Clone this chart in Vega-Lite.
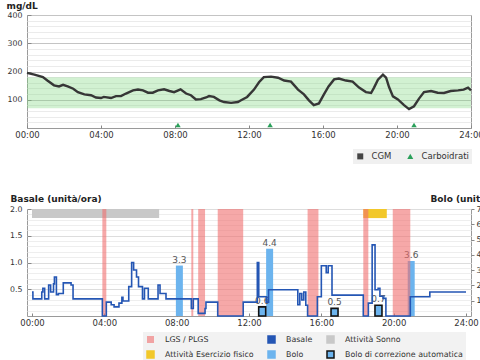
{
  "$schema": "https://vega.github.io/schema/vega-lite/v6.json",
  "padding": {"left": 5, "top": 0, "right": 0, "bottom": 0},
  "spacing": 54,
  "config": {
    "font": "DejaVu Sans",
    "view": {"stroke": "#9a9a9a"},
    "axis": {"labelFont": "DejaVu Sans", "labelFontSize": 8.5, "labelColor": "#333", "titleFont": "DejaVu Sans", "domain": false, "tickColor": "#888"},
    "legend": {"labelFont": "DejaVu Sans", "labelFontSize": 8.5, "labelColor": "#333"}
  },
  "datasets": {
    "cgm": [
      {"t": 0, "g": 195}, {"t": 0.4, "g": 189}, {"t": 0.86, "g": 180}, {"t": 1.1, "g": 168}, {"t": 1.46, "g": 151}, {"t": 1.73, "g": 147}, {"t": 1.95, "g": 153}, {"t": 2.2, "g": 147}, {"t": 2.5, "g": 139}, {"t": 2.75, "g": 127}, {"t": 3.1, "g": 119}, {"t": 3.46, "g": 116}, {"t": 3.73, "g": 108}, {"t": 4.0, "g": 106}, {"t": 4.15, "g": 110}, {"t": 4.54, "g": 106}, {"t": 4.81, "g": 113}, {"t": 5.08, "g": 113}, {"t": 5.35, "g": 122}, {"t": 5.73, "g": 133}, {"t": 6.0, "g": 136}, {"t": 6.27, "g": 133}, {"t": 6.54, "g": 125}, {"t": 6.8, "g": 125}, {"t": 7.08, "g": 133}, {"t": 7.41, "g": 137}, {"t": 7.7, "g": 131}, {"t": 7.95, "g": 127}, {"t": 8.3, "g": 137}, {"t": 8.6, "g": 122}, {"t": 8.86, "g": 116}, {"t": 9.13, "g": 101}, {"t": 9.4, "g": 102}, {"t": 9.68, "g": 108}, {"t": 9.84, "g": 113}, {"t": 10.1, "g": 110}, {"t": 10.4, "g": 98}, {"t": 10.65, "g": 92}, {"t": 11.03, "g": 89}, {"t": 11.4, "g": 92}, {"t": 11.57, "g": 98}, {"t": 11.9, "g": 110}, {"t": 12.27, "g": 136}, {"t": 12.54, "g": 162}, {"t": 12.8, "g": 180}, {"t": 13.19, "g": 182}, {"t": 13.57, "g": 178}, {"t": 13.9, "g": 168}, {"t": 14.27, "g": 164}, {"t": 14.65, "g": 136}, {"t": 14.97, "g": 119}, {"t": 15.24, "g": 98}, {"t": 15.5, "g": 81}, {"t": 15.78, "g": 87}, {"t": 16.05, "g": 119}, {"t": 16.3, "g": 147}, {"t": 16.6, "g": 172}, {"t": 16.86, "g": 175}, {"t": 17.24, "g": 168}, {"t": 17.6, "g": 164}, {"t": 17.95, "g": 143}, {"t": 18.32, "g": 127}, {"t": 18.6, "g": 124}, {"t": 18.76, "g": 143}, {"t": 18.97, "g": 171}, {"t": 19.24, "g": 189}, {"t": 19.41, "g": 178}, {"t": 19.57, "g": 145}, {"t": 19.78, "g": 112}, {"t": 20.05, "g": 101}, {"t": 20.38, "g": 81}, {"t": 20.65, "g": 67}, {"t": 20.92, "g": 77}, {"t": 21.19, "g": 104}, {"t": 21.46, "g": 127}, {"t": 21.84, "g": 131}, {"t": 22.2, "g": 125}, {"t": 22.54, "g": 124}, {"t": 22.9, "g": 131}, {"t": 23.3, "g": 133}, {"t": 23.6, "g": 136}, {"t": 23.84, "g": 143}, {"t": 24, "g": 133}
    ],
    "carbs": [
      {"t": 8.16, "series": "Carboidrati"}, {"t": 13.14, "series": "Carboidrati"}, {"t": 20.92, "series": "Carboidrati"}
    ],
    "bands": [
      {"s": 3.89, "e": 4.11, "cat": "LGS / PLGS"}, {"s": 8.81, "e": 8.92, "cat": "LGS / PLGS"}, {"s": 9.19, "e": 9.57, "cat": "LGS / PLGS"}, {"s": 10.27, "e": 11.68, "cat": "LGS / PLGS"}, {"s": 15.24, "e": 15.84, "cat": "LGS / PLGS"}, {"s": 18.32, "e": 18.6, "cat": "LGS / PLGS"}, {"s": 19.95, "e": 20.92, "cat": "LGS / PLGS"}
    ],
    "activity": [
      {"s": 0, "e": 7.03, "cat": "Attività Sonno"}, {"s": 18.32, "e": 19.62, "cat": "Attività Esercizio fisico"}
    ],
    "bolus": [
      {"t": 8.15, "u": 3.3, "cat": "Bolo"}, {"t": 13.14, "u": 4.4, "cat": "Bolo"}, {"t": 20.97, "u": 3.6, "cat": "Bolo"},
      {"t": 12.73, "u": 0.6, "cat": "Bolo di correzione automatica"}, {"t": 16.73, "u": 0.5, "cat": "Bolo di correzione automatica"}, {"t": 19.16, "u": 0.7, "cat": "Bolo di correzione automatica"}
    ],
    "basal": [
      {"t": 0, "b": 0.45}, {"t": 0.05, "b": 0.32}, {"t": 0.54, "b": 0.45}, {"t": 0.6, "b": 0.52}, {"t": 0.7, "b": 0.32}, {"t": 0.92, "b": 0.58}, {"t": 1.03, "b": 0.45}, {"t": 1.19, "b": 0.6}, {"t": 1.24, "b": 0.73}, {"t": 1.35, "b": 0.4}, {"t": 1.46, "b": 0.42}, {"t": 1.73, "b": 0.62}, {"t": 2.16, "b": 0.58}, {"t": 2.27, "b": 0.32}, {"t": 3.89, "b": 0.0}, {"t": 4.11, "b": 0.26}, {"t": 4.38, "b": 0.21}, {"t": 4.54, "b": 0.17}, {"t": 4.81, "b": 0.24}, {"t": 4.97, "b": 0.35}, {"t": 5.03, "b": 0.28}, {"t": 5.35, "b": 0.55}, {"t": 5.51, "b": 1.0}, {"t": 5.62, "b": 0.86}, {"t": 5.78, "b": 0.73}, {"t": 5.89, "b": 0.55}, {"t": 6.11, "b": 0.32}, {"t": 6.22, "b": 0.52}, {"t": 6.43, "b": 0.32}, {"t": 6.97, "b": 0.58}, {"t": 7.08, "b": 0.42}, {"t": 7.41, "b": 0.32}, {"t": 8.81, "b": 0.14}, {"t": 8.92, "b": 0.32}, {"t": 9.19, "b": 0.05}, {"t": 9.57, "b": 0.14}, {"t": 9.62, "b": 0.26}, {"t": 10.27, "b": 0.0}, {"t": 11.68, "b": 0.26}, {"t": 12.46, "b": 1.0}, {"t": 12.54, "b": 0.36}, {"t": 12.97, "b": 0.26}, {"t": 13.08, "b": 0.49}, {"t": 14.7, "b": 0.21}, {"t": 14.81, "b": 0.42}, {"t": 14.92, "b": 0.3}, {"t": 15.03, "b": 0.45}, {"t": 15.14, "b": 0.2}, {"t": 15.24, "b": 0.0}, {"t": 15.78, "b": 0.36}, {"t": 16.0, "b": 0.94}, {"t": 16.27, "b": 0.81}, {"t": 16.38, "b": 0.94}, {"t": 16.59, "b": 0.39}, {"t": 18.32, "b": 0.0}, {"t": 18.6, "b": 0.24}, {"t": 18.81, "b": 1.33}, {"t": 18.97, "b": 0.49}, {"t": 19.14, "b": 0.52}, {"t": 19.24, "b": 0.37}, {"t": 19.41, "b": 0.33}, {"t": 19.57, "b": 0.0}, {"t": 20.92, "b": 0.36}, {"t": 22.0, "b": 0.45}, {"t": 24, "b": 0.45}
    ]
  },
  "vconcat": [
    {
      "width": 444,
      "height": 113,
      "resolve": {"scale": {"y": "independent"}, "axis": {"y": "independent"}},
      "layer": [
        {
          "data": {"values": [{"lo": 70, "hi": 180}]},
          "mark": {"type": "rect", "fill": "#7fd67f", "opacity": 0.35},
          "encoding": {
            "y": {"field": "lo", "type": "quantitative", "scale": {"domain": [0, 400], "nice": false},
              "axis": {"values": [20,40,60,80,120,140,160,180,220,240,260,280,320,340,360,380], "labels": false, "ticks": false, "grid": true, "gridColor": "#ebebeb", "title": null}},
            "y2": {"field": "hi"}
          }
        },
        {
          "data": {"name": "cgm"},
          "mark": {"type": "line", "color": "#363636", "strokeWidth": 2.4},
          "encoding": {
            "x": {"field": "t", "type": "quantitative", "title": null, "scale": {"domain": [0, 24], "nice": false},
              "axis": {"values": [0,1,2,3,4,5,6,7,8,9,10,11,12,13,14,15,16,17,18,19,20,21,22,23,24], "labelExpr": "datum.value % 2 === 0 ? (datum.value < 10 ? '0' : '') + datum.value + ':00' : ''", "grid": false, "tickSize": -3, "labelPadding": 5, "labelFlush": false, "labelOverlap": false}},
            "y": {"field": "g", "type": "quantitative", "title": "mg/dL", "scale": {"domain": [0, 400], "nice": false},
              "axis": {"orient": "left", "values": [100, 200, 300, 400], "grid": true, "gridColor": "#c4c4c4", "labelFontSize": 7.8,
                "tickSize": -4, "labelPadding": 9, "titleAngle": 0, "titleX": -21, "titleY": -10, "titleAlign": "left", "titleBaseline": "middle", "titleFontWeight": "bold", "titleFontSize": 9, "titleColor": "#222"}}
          }
        },
        {
          "data": {"name": "carbs"},
          "mark": {"type": "point", "filled": true, "size": 30, "opacity": 1, "yOffset": -3},
          "encoding": {
            "x": {"field": "t", "type": "quantitative"},
            "y": {"datum": 0, "type": "quantitative", "scale": {"domain": [0, 400], "nice": false}, "axis": null},
            "color": {"field": "series", "type": "nominal", "scale": {"domain": ["CGM", "Carboidrati"], "range": ["#444444", "#2aa05a"]},
              "legend": {"orient": "none", "legendX": 326, "legendY": 134, "direction": "horizontal", "title": null, "fillColor": "#f0f0f0", "padding": 3, "symbolSize": 36, "columnPadding": 14, "labelOffset": 7}},
            "shape": {"field": "series", "type": "nominal", "scale": {"domain": ["CGM", "Carboidrati"], "range": ["square", "triangle-up"]},
              "legend": {"orient": "none", "legendX": 326, "legendY": 134, "direction": "horizontal", "title": null, "fillColor": "#f0f0f0", "padding": 3, "symbolSize": 36, "columnPadding": 14, "labelOffset": 7}}
          }
        }
      ]
    },
    {
      "width": 444,
      "height": 107,
      "resolve": {"scale": {"y": "independent"}, "axis": {"y": "independent"}},
      "layer": [
        {
          "data": {"name": "activity"},
          "mark": {"type": "rect"},
          "encoding": {
            "x": {"field": "s", "type": "quantitative", "title": null, "scale": {"domain": [0, 24], "nice": false},
              "axis": {"values": [0,1,2,3,4,5,6,7,8,9,10,11,12,13,14,15,16,17,18,19,20,21,22,23,24], "labelExpr": "datum.value % 2 === 0 ? (datum.value < 10 ? '0' : '') + datum.value + ':00' : ''", "grid": false, "tickSize": -3, "labelPadding": 5, "labelFlush": false, "labelOverlap": false}},
            "x2": {"field": "e"},
            "y": {"datum": 2, "type": "quantitative", "scale": {"domain": [0, 2], "nice": false},
              "axis": {"values": [0.1,0.2,0.3,0.4,0.5,0.6,0.7,0.8,0.9,1.0,1.1,1.2,1.3,1.4,1.5,1.6,1.7,1.8,1.9,2.0], "labels": false, "ticks": false, "grid": true, "gridColor": "#eeeeee", "title": null}},
            "y2": {"datum": 1.83},
            "fill": {"field": "cat", "type": "nominal"}
          }
        },
        {
          "data": {"name": "bolus"},
          "transform": [{"filter": "datum.cat === 'Bolo'"}],
          "mark": {"type": "bar", "width": 7},
          "encoding": {
            "x": {"field": "t", "type": "quantitative"},
            "y": {"field": "u", "type": "quantitative", "scale": {"domain": [0, 7], "nice": false},
              "axis": {"orient": "right", "values": [1,2,3,4,5,6,7], "grid": false, "tickSize": 3, "labelPadding": 2, "labelFontSize": 7.8, "title": "Bolo (unità/ora)", "titleAngle": 0, "titleX": -41, "titleY": -11, "titleAlign": "left", "titleBaseline": "middle", "titleFontWeight": "bold", "titleFontSize": 9, "titleColor": "#222"}},
            "fill": {"field": "cat", "type": "nominal"}
          }
        },
        {
          "data": {"name": "bolus"},
          "transform": [{"filter": "datum.cat !== 'Bolo'"}],
          "mark": {"type": "bar", "width": 7, "strokeWidth": 1.6},
          "encoding": {
            "x": {"field": "t", "type": "quantitative"},
            "y": {"field": "u", "type": "quantitative", "scale": {"domain": [0, 7], "nice": false}, "axis": null},
            "fill": {"field": "cat", "type": "nominal",
              "scale": {"domain": ["LGS / PLGS", "Basale", "Attività Sonno", "Attività Esercizio fisico", "Bolo", "Bolo di correzione automatica"], "range": ["rgba(240,110,110,0.6)", "#2456b4", "#c8c8c8", "#f2c82a", "#6cb4ee", "#6cb4ee"]},
              "legend": {"orient": "none", "legendX": 116, "legendY": 317, "columns": 3, "direction": "horizontal", "title": null, "symbolType": "square", "symbolSize": 49, "labelFontSize": 7.9, "fillColor": "#f2f2f2", "padding": 3, "columnPadding": 11, "rowPadding": 2, "labelOffset": 10, "symbolStrokeWidth": 1.5}},
            "stroke": {"field": "cat", "type": "nominal",
              "scale": {"domain": ["LGS / PLGS", "Basale", "Attività Sonno", "Attività Esercizio fisico", "Bolo", "Bolo di correzione automatica"], "range": ["rgba(240,110,110,0)", "#2456b4", "#c8c8c8", "#f2c82a", "#6cb4ee", "#111111"]},
              "legend": {"orient": "none", "legendX": 116, "legendY": 317, "columns": 3, "direction": "horizontal", "title": null, "symbolType": "square", "symbolSize": 49, "labelFontSize": 7.9, "fillColor": "#f2f2f2", "padding": 3, "columnPadding": 11, "rowPadding": 2, "labelOffset": 10, "symbolStrokeWidth": 1.5}}
          }
        },
        {
          "data": {"name": "bolus"},
          "mark": {"type": "text", "dy": -6, "fontSize": 9, "color": "#555"},
          "encoding": {
            "x": {"field": "t", "type": "quantitative"},
            "y": {"field": "u", "type": "quantitative", "scale": {"domain": [0, 7], "nice": false}, "axis": null},
            "text": {"field": "u", "type": "quantitative", "format": ".1f"}
          }
        },
        {
          "data": {"name": "bands"},
          "mark": {"type": "rect"},
          "encoding": {
            "x": {"field": "s", "type": "quantitative"},
            "x2": {"field": "e"},
            "fill": {"field": "cat", "type": "nominal"}
          }
        },
        {
          "data": {"name": "basal"},
          "mark": {"type": "line", "interpolate": "step-after", "color": "#2456b4", "strokeWidth": 1.6},
          "encoding": {
            "x": {"field": "t", "type": "quantitative"},
            "y": {"field": "b", "type": "quantitative", "scale": {"domain": [0, 2], "nice": false},
              "axis": {"orient": "left", "values": [0.5, 1, 1.5, 2], "format": ".1f", "grid": true, "gridColor": "#dddddd", "labelFontSize": 7.8, "tickSize": -4, "labelPadding": 9, "title": "Basale (unità/ora)", "titleAngle": 0, "titleX": -17, "titleY": -11, "titleAlign": "left", "titleBaseline": "middle", "titleFontWeight": "bold", "titleFontSize": 9, "titleColor": "#222"}}
          }
        }
      ]
    }
  ]
}
